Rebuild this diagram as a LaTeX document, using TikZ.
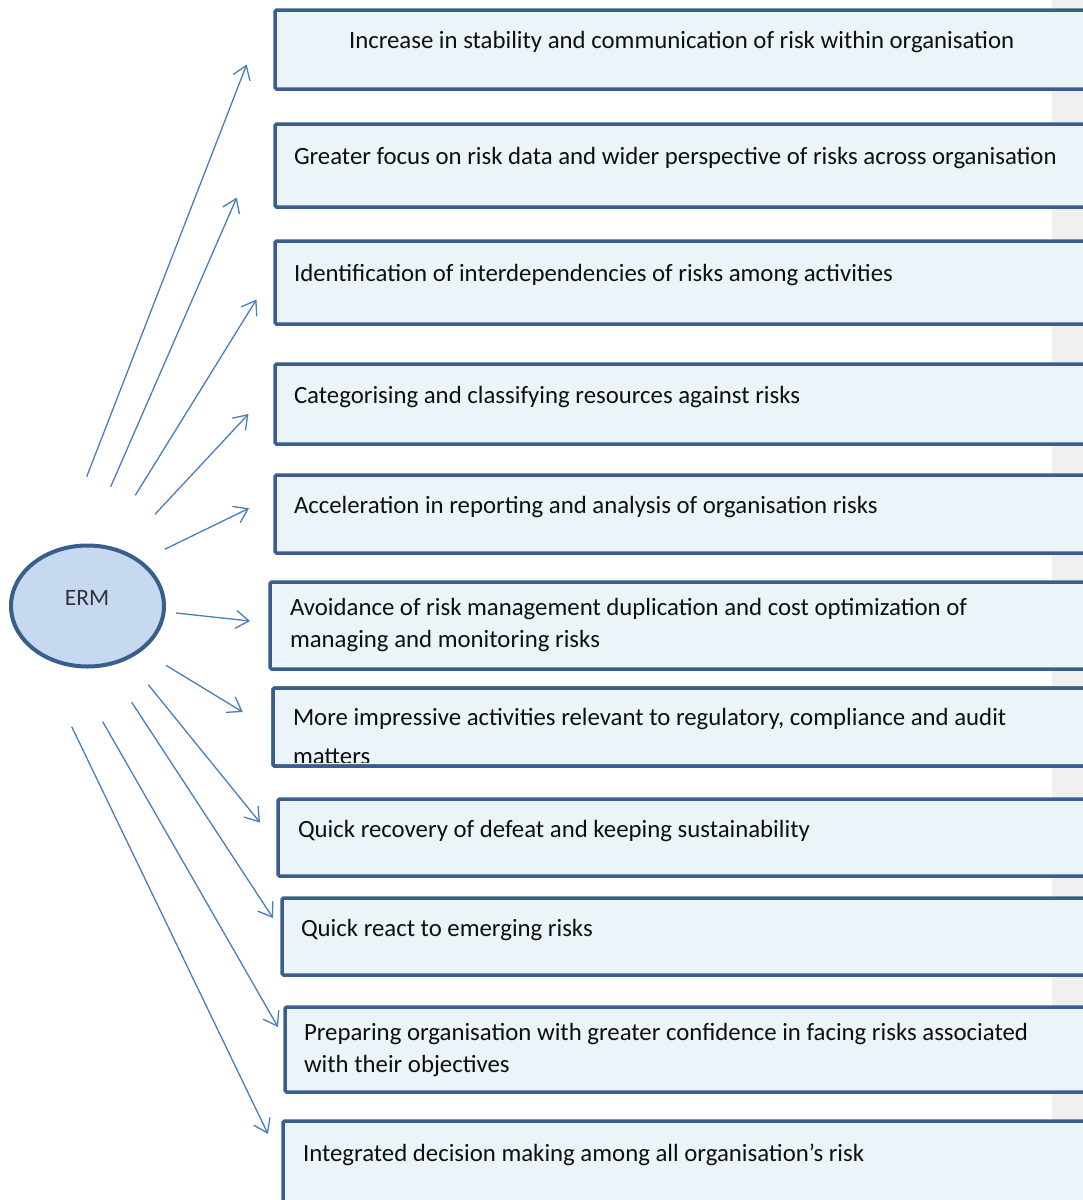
\documentclass[tikz,border=0pt]{standalone}
\usepackage{fontspec}
\setmainfont{Carlito}
\usetikzlibrary{arrows.meta,shapes.geometric}

\definecolor{boxfill}{RGB}{235,244,248}
\definecolor{boxline}{RGB}{58,94,139}
\definecolor{ermfill}{RGB}{198,217,241}
\definecolor{arrowblue}{RGB}{74,126,187}
\definecolor{sidegray}{RGB}{240,240,240}
\definecolor{inktext}{RGB}{15,15,15}

\tikzset{
  benefitbox/.style={draw=boxline, fill=boxfill, line width=3.5pt, rounded corners=1.5pt},
  benefittext/.style={anchor=base west, inner sep=0pt, outer sep=0pt, align=left,
    text=inktext, font=\fontsize{24.8}{32.5}\selectfont},
  ermshape/.style={ellipse, draw=boxline, fill=ermfill, line width=4pt,
    minimum width=153pt, minimum height=121pt, inner sep=0pt},
  ermlabel/.style={anchor=base, inner sep=0pt, text=black!80,
    font=\fontsize{23.5}{28}\selectfont},
  benefitarrow/.style={draw=arrowblue, line width=1.3pt,
    -{Straight Barb[length=13pt, width=18pt, line width=1.3pt]}},
}

\begin{document}
\begin{tikzpicture}[x=1pt, y=-1pt]
  \useasboundingbox (0,0) rectangle (1083,1200);
  \clip (0,0) rectangle (1083,1200);

  % grey margin strip on the right
  \fill[sidegray] (1052,0) rectangle (1083,1200);

  % benefit boxes (they run off the right edge)
  \path[benefitbox] (275,10)   rectangle (1095,89);
  \path[benefitbox] (275,124)  rectangle (1095,207);
  \path[benefitbox] (275,241)  rectangle (1095,324);
  \path[benefitbox] (275,364)  rectangle (1095,444);
  \path[benefitbox] (275,475)  rectangle (1095,553);
  \path[benefitbox] (270,582)  rectangle (1095,669);
  \path[benefitbox] (273,688)  rectangle (1095,766);
  \path[benefitbox] (278,799)  rectangle (1095,876);
  \path[benefitbox] (282,898)  rectangle (1095,975);
  \path[benefitbox] (285,1007) rectangle (1095,1092);
  \path[benefitbox] (283,1121) rectangle (1095,1215);

  % box texts (multi-line nodes are placed by the baseline of their last line)
  \node[benefittext] (t1) at (349,48)
    {Increase in stability and communication of risk within organisation};
  \node[benefittext] (t2) at (294,164)
    {Greater focus on risk data and wider perspective of risks across organisation};
  \node[benefittext] (t3) at (294,281)
    {Identification of interdependencies of risks among activities};
  \node[benefittext] (t4) at (294,403)
    {Categorising and classifying resources against risks};
  \node[benefittext] (t5) at (294,513)
    {Acceleration in reporting and analysis of organisation risks};
  \node[benefittext] (t6) at (290,647.5)
    {Avoidance of risk management duplication and cost optimization of\\managing and monitoring risks};
  % the second line overflows the box and is cut off by it
  \begin{scope}
    \clip (273,688) rectangle (1095,762);
    \node[benefittext] (t7) at (293,764)
      {More impressive activities relevant to regulatory, compliance and audit\\[6.5pt]matters};
  \end{scope}
  \draw[boxline, line width=3.5pt, rounded corners=1.5pt] (273,688) rectangle (1095,766);
  \node[benefittext] (t8) at (298,837)
    {Quick recovery of defeat and keeping sustainability};
  \node[benefittext] (t9) at (301,936)
    {Quick react to emerging risks};
  \node[benefittext] (t10) at (304,1072.5)
    {Preparing organisation with greater confidence in facing risks associated\\with their objectives};
  \node[benefittext] (t11) at (303,1161)
    {Integrated decision making among all organisation’s risk};

  % central ellipse
  \node[ermshape] (erm) at (87.5,606) {};
  \node[ermlabel] (ermtext) at (87,605) {ERM};

  % arrow end points
  \coordinate (s1)  at (86.7,476.7);  \coordinate (e1)  at (246.7,64.5);
  \coordinate (s2)  at (110.7,486.7); \coordinate (e2)  at (236.8,197.5);
  \coordinate (s3)  at (135.3,495.3); \coordinate (e3)  at (256.5,299.5);
  \coordinate (s4)  at (155,514.3);   \coordinate (e4)  at (248.5,414);
  \coordinate (s5)  at (164.7,549.3); \coordinate (e5)  at (249,508.3);
  \coordinate (s6)  at (176,613);     \coordinate (e6)  at (250,621);
  \coordinate (s7)  at (166,665.3);   \coordinate (e7)  at (242.7,712);
  \coordinate (s8)  at (148.3,684.7); \coordinate (e8)  at (260,822.5);
  \coordinate (s9)  at (131.7,702.3); \coordinate (e9)  at (273,918);
  \coordinate (s10) at (102.7,721.7); \coordinate (e10) at (278,1027);
  \coordinate (s11) at (71.7,726.7);  \coordinate (e11) at (268,1134);

  \foreach \i in {1,...,11}
    \draw[benefitarrow] (s\i) -- (e\i);
\end{tikzpicture}
\end{document}
